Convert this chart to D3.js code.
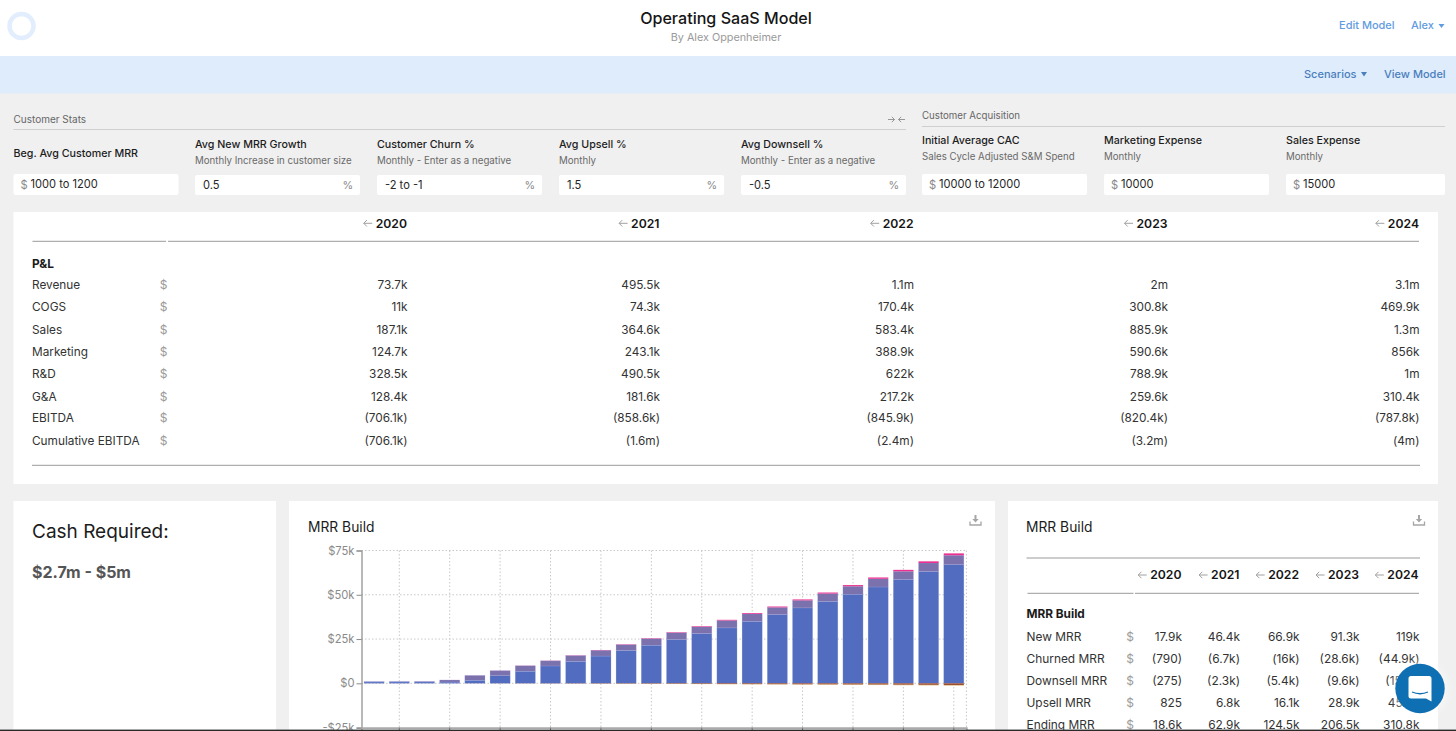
<!DOCTYPE html>
<html>
<head>
<meta charset="utf-8">
<script src="https://cdn.jsdelivr.net/npm/d3@7"></script>
<style>
html,body{margin:0;padding:0;background:#f0f0f0;overflow:hidden}
svg{display:block}
text{font-family:Inter,"Noto Sans",sans-serif}
</style>
</head>
<body>
<svg id="page" width="1456" height="731"></svg>
<script>
// ---- chart data ----
const years = ["2020","2021","2022","2023","2024"];
const months = ["Jan 20","Feb 20","Mar 20","Apr 20","May 20","Jun 20","Jul 20","Aug 20","Sep 20","Oct 20","Nov 20","Dec 20","Jan 21","Feb 21","Mar 21","Apr 21","May 21","Jun 21","Jul 21","Aug 21","Sep 21","Oct 21","Nov 21","Dec 21"];
const existingMRR = [750,780,800,700,1700,4300,6800,9800,12400,15400,18500,21500,24700,28100,31300,35000,38800,42600,46200,50300,54400,58600,63100,67000];
const newMRR = [240,260,285,1180,2770,2850,3130,2910,3280,3260,3330,3700,3860,3820,4180,4230,4080,4230,4470,4500,4630,4640,4840,5320];
const upsellMRR = [10,10,15,20,30,50,70,90,120,160,190,230,280,330,380,440,490,540,600,670,740,830,930,1050];
const churnedMRR = [-10,-10,-10,-15,-25,-40,-60,-90,-120,-160,-200,-240,-290,-340,-400,-460,-520,-580,-640,-700,-760,-820,-880,-950];
const downsellMRR = [-5,-5,-5,-5,-10,-15,-20,-30,-40,-50,-60,-70,-80,-90,-110,-120,-140,-150,-170,-190,-210,-240,-260,-290];
const yTicks = [-25000,0,25000,50000,75000];
const yTickLabels = ["-$25k","$0","$25k","$50k","$75k"];
const seriesKeys = ["existing","new","upsell","churned","downsell"];
const seriesColors = ["#526cbf","#7b71ad","#ec2f90","#9c4f33","#d9a860"];

// ---- P&L table ----
const plLabels = ["Revenue","COGS","Sales","Marketing","R&D","G&A","EBITDA","Cumulative EBITDA"];
const plRow2020 = ["73.7k","11k","187.1k","124.7k","328.5k","128.4k","(706.1k)","(706.1k)"];
const plRow2021 = ["495.5k","74.3k","364.6k","243.1k","490.5k","181.6k","(858.6k)","(1.6m)"];
const plRow2022 = ["1.1m","170.4k","583.4k","388.9k","622k","217.2k","(845.9k)","(2.4m)"];
const plRow2023 = ["2m","300.8k","885.9k","590.6k","788.9k","259.6k","(820.4k)","(3.2m)"];
const plRow2024 = ["3.1m","469.9k","1.3m","856k","1m","310.4k","(787.8k)","(4m)"];

// ---- MRR table ----
const mrrLabels = ["New MRR","Churned MRR","Downsell MRR","Upsell MRR","Ending MRR"];
const mrrCol2020 = ["17.9k","(790)","(275)","825","18.6k"];
const mrrCol2021 = ["46.4k","(6.7k)","(2.3k)","6.8k","62.9k"];
const mrrCol2022 = ["66.9k","(16k)","(5.4k)","16.1k","124.5k"];
const mrrCol2023 = ["91.3k","(28.6k)","(9.6k)","28.9k","206.5k"];
const mrrCol2024 = ["119k","(44.9k)","(15.1k)","45.2k","310.8k"];

// ---- inputs ----
const inputNames = ["Beg. Avg Customer MRR","Avg New MRR Growth","Customer Churn %","Avg Upsell %","Avg Downsell %","Initial Average CAC","Marketing Expense","Sales Expense"];
const inputNotes = ["","Monthly Increase in customer size","Monthly - Enter as a negative","Monthly","Monthly - Enter as a negative","Sales Cycle Adjusted S&M Spend","Monthly","Monthly"];
const inputValues = ["1000 to 1200","0.5","-2 to -1","1.5","-0.5","10000 to 12000","10000","15000"];
const inputUnits = ["$","%","%","%","%","$","$","$"];

const svg = d3.select("#page");
function T(g,x,y,s,o={}){
  return g.append("text").attr("x",x).attr("y",y).attr("dy",o.dy||"0.36em")
    .attr("text-anchor",o.a||"start").attr("font-size",o.s||12).attr("font-weight",o.w||400)
    .attr("fill",o.c||"#2e2e2e").text(s);
}
function R(g,x,y,w,h,c,r){return g.append("rect").attr("x",x).attr("y",y).attr("width",w).attr("height",h).attr("fill",c).attr("rx",r||0);}
function HL(g,x1,x2,y,c,w){g.append("line").attr("x1",x1).attr("x2",x2).attr("y1",y).attr("y2",y).attr("stroke",c||"#9a9a9a").attr("stroke-width",w||1);}
function leftArrow(g,xr,y){ // small grey back-arrow in front of a year label
  g.append("path").attr("d",`M${xr},${y}h-8.5m3.2,-3.2l-3.2,3.2l3.2,3.2`).attr("fill","none").attr("stroke","#a0a0a0").attr("stroke-width",1);
}
function yearHead(g,xr,y,yr){
  const t=T(g,xr,y,yr,{a:"end",s:12.2,w:600,c:"#151515"});
  leftArrow(g,xr-t.node().getComputedTextLength()-3.5,y);
}
function dlIcon(g,cx,cy){
  g.append("path").attr("d",`M${cx-5.5},${cy+1.5}v3.5h11v-3.5`).attr("fill","none").attr("stroke","#a6a6a6").attr("stroke-width",1.3);
  g.append("path").attr("d",`M${cx-1},${cy-5}h2v4h2.2l-3.2,3.4l-3.2,-3.4h2.2z`).attr("fill","#a6a6a6");
}

// ---- page chrome ----
R(svg,0,0,1456,56,"#ffffff");
R(svg,0,56,1456,37.5,"#dfecfc");
svg.append("circle").attr("cx",21.5).attr("cy",26).attr("r",12).attr("fill","none").attr("stroke","#e2eefd").attr("stroke-width",4.5);
T(svg,726,18,"Operating SaaS Model",{a:"middle",s:16.1,w:500,c:"#151515"});
T(svg,726,37.5,"By Alex Oppenheimer",{a:"middle",s:10.8,c:"#9a9a9a"});
T(svg,1339,25.5,"Edit Model",{s:11,w:500,c:"#5f9ce0"});
T(svg,1411,25.5,"Alex",{s:11,w:500,c:"#5f9ce0"});
svg.append("path").attr("d","M1438.5,24h6l-3,4z").attr("fill","#5f9ce0");
T(svg,1304,74,"Scenarios",{s:11,w:500,c:"#4a7fbd"});
svg.append("path").attr("d","M1361,72h6l-3,4.5z").attr("fill","#4a7fbd");
T(svg,1384,74,"View Model",{s:11,w:500,c:"#4a7fbd"});

// ---- input sections ----
T(svg,13.5,119.5,"Customer Stats",{s:10,c:"#666"});
HL(svg,13.5,906,129.5,"#cfcfcf");
T(svg,922,115.5,"Customer Acquisition",{s:9.7,c:"#666"});
HL(svg,922,1445,126.5,"#cfcfcf");
svg.append("path").attr("d","M888,119.5h6.5m-2.7,-2.7l2.7,2.7l-2.7,2.7M905,119.5h-6.5m2.7,-2.7l-2.7,2.7l2.7,2.7").attr("fill","none").attr("stroke","#8c8c8c").attr("stroke-width",0.9);

const inputX = [13.5,195,377,559,741,922,1104,1286];
const inputW = [165,165,165,165,165,165,165,159];
inputNames.forEach((n,i)=>{
  const right = i>=5, x=inputX[i], w=inputW[i];
  const boxY = (right||i===0)?174:175;
  const boxH = (right||i===0)?21:20;
  const nameY = i===0?153:(right?140:144);
  const noteY = right?157:161;
  T(svg,x,nameY,n,{s:10.7,w:500,c:"#1c1c1c"});
  if(inputNotes[i]) T(svg,x,noteY,inputNotes[i],{s:9.7,c:"#6a6a6a"});
  R(svg,x,boxY,w,boxH,"#fff",2);
  const cy=boxY+boxH/2;
  if(inputUnits[i]==="$"){
    T(svg,x+7,cy,"$",{s:11.2,c:"#8a8a8a"});
    T(svg,x+17,cy,inputValues[i],{s:11.1,c:"#262626"});
  } else {
    T(svg,x+8,cy,inputValues[i],{s:11.1,c:"#262626"});
    T(svg,x+w-7,cy,"%",{s:10.8,c:"#8a8a8a",a:"end"});
  }
});

// ---- P&L panel ----
R(svg,13.5,212,1424.5,272,"#fff");
const plColX = [407.5,660,914,1168,1419.5];
const plRowY = [285,306.7,329.3,352,373.7,396.3,418,440.7];
const plRows = [plRow2020,plRow2021,plRow2022,plRow2023,plRow2024];
years.forEach((yr,i)=>yearHead(svg,plColX[i]-0.5,223.3,yr));
HL(svg,32.5,166,241.3);HL(svg,168,1419,241.3);HL(svg,32,1420,465.3);
T(svg,32,263.3,"P&L",{s:11.8,w:700,c:"#1a1a1a"});
plLabels.forEach((l,r)=>{
  T(svg,32,plRowY[r],l,{s:11.8,c:"#333"});
  T(svg,163.5,plRowY[r],"$",{a:"middle",s:12,c:"#9b9b9b"});
  plRows.forEach((col,c)=>T(svg,plColX[c],plRowY[r],col[r],{a:"end",s:11.8,c:"#333"}));
});

// ---- cash panel ----
R(svg,13.5,501,262.5,230,"#fff");
T(svg,32,531,"Cash Required:",{s:19,c:"#1c1c1c"});
T(svg,32,572.5,"$2.7m - $5m",{s:16,w:700,c:"#555"});

// ---- chart panel ----
R(svg,289,501,706,230,"#fff");
T(svg,308,527,"MRR Build",{s:13.8,c:"#1c1c1c"});
dlIcon(svg,975.5,520);

const x = d3.scaleBand().domain(months).range([361.5,966.4]).paddingInner(0.2).paddingOuter(0.1);
const y = d3.scaleLinear().domain([-25000,75000]).range([727.6,550.5]);
const tickMonths = months.filter((m,i)=>i%2===1);

const grid = svg.append("g").attr("stroke","#c8c8c8").attr("stroke-width",1).attr("stroke-dasharray","1.5,2");
grid.selectAll("line.h").data(yTicks.filter(v=>v>-25000)).join("line").attr("class","h")
  .attr("x1",361.5).attr("x2",966.4).attr("y1",d=>y(d)).attr("y2",d=>y(d));
grid.selectAll("line.v").data(tickMonths).join("line").attr("class","v")
  .attr("x1",d=>x(d)+x.bandwidth()/2).attr("x2",d=>x(d)+x.bandwidth()/2).attr("y1",550.5).attr("y2",727.6);
grid.append("line").attr("x1",966.4).attr("x2",966.4).attr("y1",550.5).attr("y2",727.6);

const table = months.map((m,i)=>({month:m,existing:existingMRR[i],new:newMRR[i],upsell:upsellMRR[i],churned:churnedMRR[i],downsell:downsellMRR[i]}));
const stacked = d3.stack().keys(seriesKeys).offset(d3.stackOffsetDiverging)(table);
const color = d3.scaleOrdinal(seriesKeys,seriesColors);
svg.append("g").selectAll("g").data(stacked).join("g").attr("fill",d=>color(d.key))
  .attr("stroke",d=>(d.key==="existing"||d.key==="new")?"rgba(170,180,235,0.35)":"none")
  .attr("stroke-width",0.6)
  .selectAll("rect").data(d=>d).join("rect")
  .attr("x",d=>x(d.data.month)).attr("width",x.bandwidth())
  .attr("y",d=>y(Math.max(d[0],d[1]))).attr("height",d=>Math.abs(y(d[0])-y(d[1])));

const axisY = svg.append("g").attr("transform","translate(361.5,0)")
  .call(d3.axisLeft(y).tickValues(yTicks).tickSize(5).tickPadding(2).tickFormat((d,i)=>yTickLabels[i]));
axisY.selectAll("text").attr("font-size",11.2).attr("fill","#8a8a8a").style("font-family","Inter");
axisY.selectAll("line").attr("stroke","#8a8a8a");
axisY.select(".domain").attr("stroke","#8a8a8a").attr("stroke-width",1.2);
const axisX = svg.append("g").attr("transform","translate(0,727.6)")
  .call(d3.axisBottom(x).tickValues(tickMonths).tickSize(4).tickFormat(""));
axisX.selectAll("line").attr("stroke","#777");
axisX.select(".domain").attr("stroke","#aaa").attr("stroke-width",1.6);

// ---- MRR table panel ----
R(svg,1008,501,430,230,"#fff");
T(svg,1026,527,"MRR Build",{s:13.8,c:"#1c1c1c"});
dlIcon(svg,1419,520);
HL(svg,1026.5,1420,558);HL(svg,1027.5,1133.5,593.3);HL(svg,1135,1419,593.3);
const mrrColX = [1182,1240,1299.6,1359.6,1419.5];
const mrrHeadX = [1181.5,1239.5,1299,1359,1418.5];
const mrrRowY = [637,658.7,681,703,725];
const mrrCols = [mrrCol2020,mrrCol2021,mrrCol2022,mrrCol2023,mrrCol2024];
years.forEach((yr,i)=>yearHead(svg,mrrHeadX[i],575,yr));
T(svg,1026.5,614,"MRR Build",{s:11.8,w:700,c:"#1a1a1a"});
mrrLabels.forEach((l,r)=>{
  T(svg,1026.5,mrrRowY[r],l,{s:11.9,c:"#333"});
  T(svg,1130,mrrRowY[r],"$",{a:"middle",s:12,c:"#9b9b9b"});
  mrrCols.forEach((col,c)=>T(svg,mrrColX[c],mrrRowY[r],col[r],{a:"end",s:11.9,c:"#333"}));
});

// ---- chat bubble & bottom edge ----
const glow = svg.append("defs").append("filter").attr("id","g").attr("x","-30%").attr("y","-30%").attr("width","160%").attr("height","160%");
glow.append("feGaussianBlur").attr("stdDeviation",4);
svg.append("circle").attr("cx",1420).attr("cy",689).attr("r",26).attr("fill","rgba(255,255,255,0.7)").attr("filter","url(#g)");
svg.append("circle").attr("cx",1420).attr("cy",688.5).attr("r",24.7).attr("fill","#0f6fb3");
svg.append("path").attr("d","M1411,676h18a2.5,2.5 0 0 1 2.5,2.5v23l-5.5,-3h-15a2.5,2.5 0 0 1 -2.5,-2.5v-17.5a2.5,2.5 0 0 1 2.5,-2.5z").attr("fill","#fff");
svg.append("path").attr("d","M1412,692q8,3.5 16,0").attr("fill","none").attr("stroke","#0f6fb3").attr("stroke-width",1.3);
R(svg,0,729.6,1456,1.4,"#2a2a2a");
</script>
</body>
</html>
